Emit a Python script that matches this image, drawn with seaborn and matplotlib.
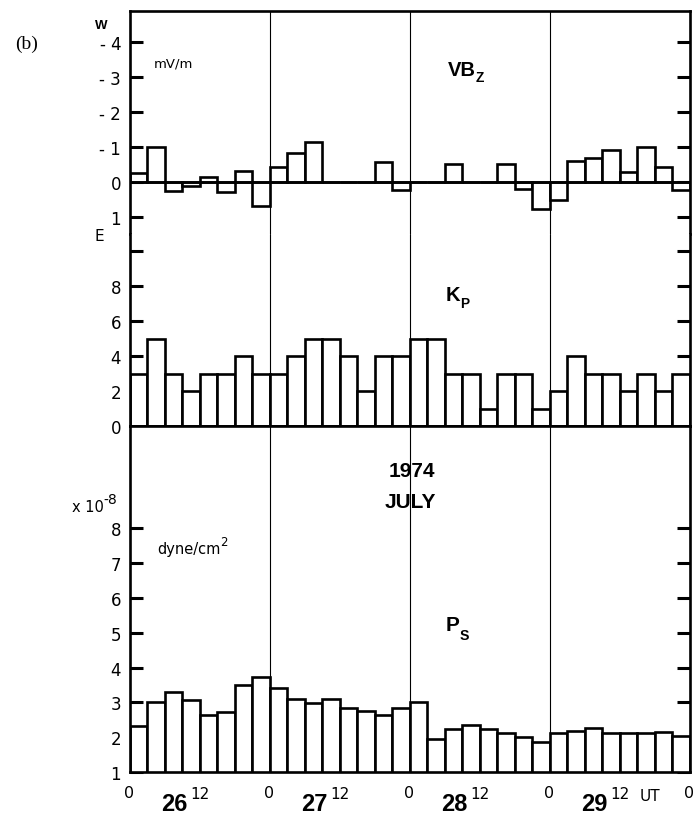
import numpy as np
import matplotlib
matplotlib.use("Agg")
import matplotlib.pyplot as plt
from matplotlib import font_manager
from matplotlib.transforms import blended_transform_factory
import seaborn as sns

# 3-hourly intervals, 26-29 July 1974 (hours from 00 UT on the 26th)
hours = np.arange(1.5, 96, 3.0)

# Solar-wind electric field VBz (mV/m); negative = westward (plotted upward)
vbz = [-0.27, -1.00, 0.25, 0.12, -0.15, 0.28, -0.32, 0.67,
       -0.42, -0.82, -1.14, 0.00, 0.00, 0.00, -0.56, 0.23,
       0.00, 0.00, -0.51, 0.00, 0.00, -0.51, 0.21, 0.77,
       0.50, -0.59, -0.70, -0.93, -0.30, -1.01, -0.42, 0.23]

# Planetary index Kp
kp = [3, 5, 3, 2, 3, 3, 4, 3,
      3, 4, 5, 5, 4, 2, 4, 4,
      5, 5, 3, 3, 1, 3, 3, 1,
      2, 4, 3, 3, 2, 3, 2, 3]

# Solar-wind dynamic pressure Ps (x 10^-8 dyne/cm^2)
ps = [2.32, 3.00, 3.31, 3.07, 2.63, 2.73, 3.50, 3.72,
      3.40, 3.11, 2.99, 3.10, 2.85, 2.74, 2.63, 2.84,
      3.02, 1.94, 2.23, 2.35, 2.23, 2.13, 2.01, 1.87,
      2.13, 2.19, 2.26, 2.13, 2.13, 2.13, 2.16, 2.04]

day_starts = [0, 24, 48, 72, 96]
day_labels = ["26", "27", "28", "29"]
hour_tick_labels = ["0", "0", "0", "0", "0"]

vbz_ticks = [-4, -3, -2, -1, 0, 1]
vbz_ticklabels = ["- 4", "- 3", "- 2", "- 1", "0", "1"]
kp_ticks = [0, 2, 4, 6, 8, 10]
kp_ticklabels = ["0", "2", "4", "6", "8", ""]
ps_ticks = [1, 2, 3, 4, 5, 6, 7, 8]
ps_ticklabels = ["1", "2", "3", "4", "5", "6", "7", "8"]

sns.set_theme(style="white")
available = {f.name for f in font_manager.fontManager.ttflist}
NARROW = "Liberation Sans Narrow" if "Liberation Sans Narrow" in available else "DejaVu Sans"
BOLD = "Liberation Sans" if "Liberation Sans" in available else "DejaVu Sans"
SERIF = "Liberation Serif" if "Liberation Serif" in available else "DejaVu Serif"
plt.rcParams["font.family"] = [NARROW, "DejaVu Sans"]
plt.rcParams["text.color"] = "black"
plt.rcParams["axes.edgecolor"] = "black"
plt.rcParams["axes.labelcolor"] = "black"
plt.rcParams["xtick.color"] = "black"
plt.rcParams["ytick.color"] = "black"
plt.rcParams["axes.linewidth"] = 1.8

fig = plt.figure(figsize=(6.94, 8.2), dpi=100)
W, H = 694.0, 820.0
left, width = 129.5 / W, 560.0 / W
ax_v = fig.add_axes([left, 1 - 234.5 / H, width, (234.5 - 11.7) / H])
ax_k = fig.add_axes([left, 1 - 427.0 / H, width, (427.0 - 234.5) / H])
ax_p = fig.add_axes([left, 1 - 773.0 / H, width, (773.0 - 427.0) / H])
axes = [ax_v, ax_k, ax_p]

bar_kw = dict(native_scale=True, width=1.0, color="white", saturation=1,
              edgecolor="black", linewidth=1.9, errorbar=None)
sns.barplot(x=hours, y=vbz, ax=ax_v, **bar_kw)
sns.barplot(x=hours, y=kp, ax=ax_k, **bar_kw)
sns.barplot(x=hours, y=ps, ax=ax_p, bottom=0, **bar_kw)

ax_v.axhline(0, color="black", lw=1.9, zorder=3)
ax_v.set_ylim(1.47, -4.9)
ax_k.set_ylim(0, 11.0)
ax_p.set_ylim(1, 10.94)

for ax in axes:
    ax.set_xlim(0, 96)
    ax.set_xlabel("")
    ax.set_ylabel("")
    for d in day_starts[1:-1]:
        ax.axvline(d, color="black", lw=0.8, zorder=0.5)
    ax.tick_params(axis="y", direction="in", length=9.5, width=2.2,
                   left=True, right=True, labelleft=True, labelright=False,
                   pad=6, labelsize=12, colors="black")
    for s in ax.spines.values():
        s.set_linewidth(1.9)
        s.set_color("black")

ax_v.spines["bottom"].set_visible(False)
ax_k.spines["top"].set_visible(False)

ax_v.set_yticks(vbz_ticks, vbz_ticklabels)
ax_k.set_yticks(kp_ticks, kp_ticklabels)
ax_p.set_yticks(ps_ticks, ps_ticklabels)

for ax in (ax_v, ax_k):
    ax.set_xticks([])
ax_p.set_xticks(day_starts, hour_tick_labels)
ax_p.tick_params(axis="x", length=0, pad=9.5, labelsize=11.5, colors="black")


def with_script(ax, x, y, main, script, size, weight="normal", family=None,
                ha="center", sup=False, sub_size=0.68, transform=None,
                dx=0.5, dy=None):
    family = family or [NARROW, "DejaVu Sans"]
    t = ax.text(x, y, main, fontsize=size, fontweight=weight, family=family,
                ha=ha, va="center", color="black",
                transform=transform or ax.transData)
    if dy is None:
        dy = size * 0.55 if sup else -size * 0.05
    ax.annotate(script, xy=(1, 0.5 if sup else 0.0), xycoords=t,
                xytext=(dx, dy), textcoords="offset points",
                fontsize=size * sub_size, fontweight=weight, family=family,
                ha="left", va="center", color="black")
    return t


# Panel titles
with_script(ax_v, 56.9, -3.23, "VB", "Z", 14.5, weight="bold", family=BOLD, dy=1)
with_script(ax_k, 55.4, 7.5, "K", "P", 14.5, weight="bold", family=BOLD, dy=1)
with_script(ax_p, 55.4, 5.25, "P", "S", 15, weight="bold", family=BOLD,
            dx=0, dy=-1)

# Units and direction labels
ax_v.text(7.5, -3.4, "mV/m", fontsize=9.5, ha="center", va="center")
ax_v.text(-4.8, -4.5, "W", fontsize=9.5, fontweight="bold", family=BOLD,
          ha="center", va="center")
ax_k.text(-5.2, 10.9, "E", fontsize=11, ha="center", va="center")
with_script(ax_p, -4.4, 8.64, "x 10", "-8", 10.5, ha="right", sup=True,
            sub_size=0.95, dx=0, dy=5)
with_script(ax_p, 4.7, 7.41, "dyne/cm", "2", 10.5, ha="left", sup=True,
            sub_size=0.8, dx=0, dy=5)

# Date annotation
ax_p.text(48.4, 9.65, "1974", fontsize=15, fontweight="bold", family=BOLD,
          ha="center", va="center")
ax_p.text(48.1, 8.76, "JULY", fontsize=15, fontweight="bold", family=BOLD,
          ha="center", va="center")

# Day numbers with the 12 UT mark beneath the time axis
trans = blended_transform_factory(ax_p.transData, ax_p.transAxes)
for start, day in zip(day_starts[:-1], day_labels):
    ax_p.text(start + 7.7, -0.0896, day, fontsize=17, fontweight="bold",
              family=BOLD, ha="center", va="center", transform=trans)
    ax_p.text(start + 12.1, -0.0607, "12", fontsize=11, ha="center",
              va="center", transform=trans)
ax_p.text(89.2, -0.069, "UT", fontsize=11, ha="center", va="center",
          transform=trans)

fig.text(27 / W, 1 - 44 / H, "(b)", fontsize=14, family=SERIF,
         ha="center", va="center")

fig.savefig("out.png", dpi=100, facecolor="white")
